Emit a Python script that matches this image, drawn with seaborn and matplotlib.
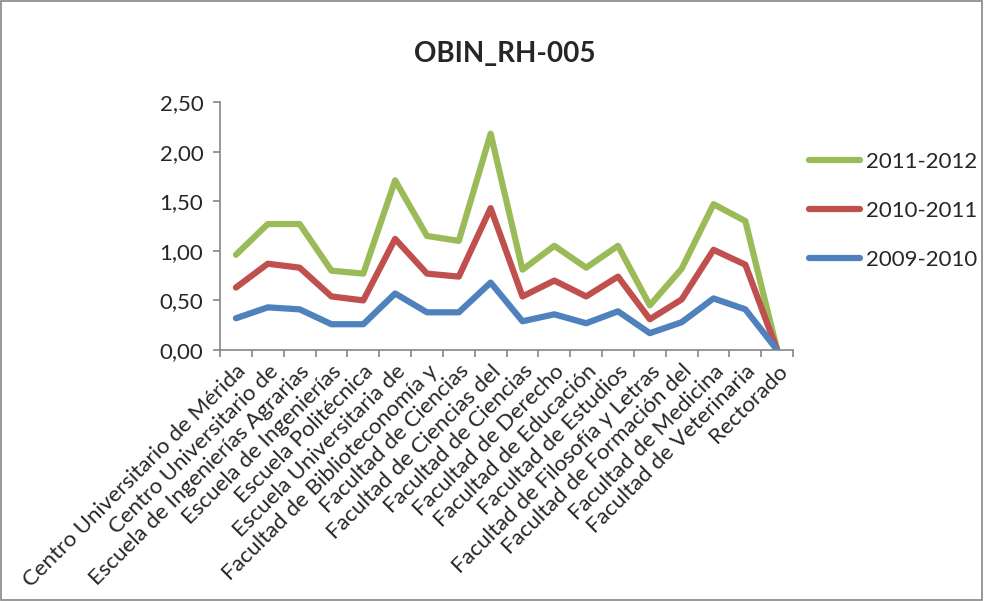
import pandas as pd
import numpy as np
import matplotlib
matplotlib.use('Agg')
import matplotlib.pyplot as plt
import seaborn as sns

# categorias (tal como aparecen, recortadas)
centros = ['Centro Universitario de Mérida', 'Centro Universitario de',
           'Escuela de Ingenierías Agrarias', 'Escuela de Ingenierías',
           'Escuela Politécnica', 'Escuela Universitaria de',
           'Facultad de Biblioteconomía y', 'Facultad de Ciencias',
           'Facultad de Ciencias del', 'Facultad de Ciencias',
           'Facultad de Derecho', 'Facultad de Educación',
           'Facultad de Estudios', 'Facultad de Filosofía y Letras',
           'Facultad de Formación del', 'Facultad de Medicina',
           'Facultad de Veterinaria', 'Rectorado']

# valores por curso (grafico de lineas apiladas)
v_2009 = [0.32, 0.43, 0.41, 0.26, 0.26, 0.57, 0.38, 0.38, 0.68,
          0.29, 0.36, 0.27, 0.39, 0.17, 0.28, 0.52, 0.41, 0.00]
v_2010 = [0.31, 0.44, 0.42, 0.28, 0.24, 0.55, 0.39, 0.36, 0.75,
          0.25, 0.34, 0.27, 0.35, 0.14, 0.23, 0.49, 0.45, 0.00]
v_2011 = [0.33, 0.40, 0.44, 0.26, 0.27, 0.59, 0.38, 0.36, 0.75,
          0.27, 0.35, 0.29, 0.31, 0.14, 0.31, 0.46, 0.44, 0.00]

cursos = ['2009-2010', '2010-2011', '2011-2012']
colores = {'2009-2010': '#4F81BD', '2010-2011': '#C0504D', '2011-2012': '#9BBB59'}

# apilar
acum = np.cumsum([v_2009, v_2010, v_2011], axis=0)
filas = []
for c, serie in zip(cursos, acum):
    for i, v in enumerate(serie):
        filas.append({'pos': i, 'valor': v, 'curso': c})
df = pd.DataFrame(filas)

sns.set_style('white')
plt.rcParams['font.family'] = ['Lato', 'DejaVu Sans']

fig = plt.figure(figsize=(9.84, 6.01), dpi=100)
ax = fig.add_axes([0.2236, 0.4176, 0.806 - 0.2236, 0.8303 - 0.4176])

sns.lineplot(data=df, x='pos', y='valor', hue='curso',
             hue_order=['2011-2012', '2010-2011', '2009-2010'],
             palette=colores, linewidth=4.5, ax=ax)

ax.set_xlim(-0.5, len(centros) - 0.5)
ax.set_ylim(0, 2.5)
ax.set_yticks(np.arange(0, 2.51, 0.5))
ax.set_yticklabels([f'{t:.2f}'.replace('.', ',') for t in np.arange(0, 2.51, 0.5)], fontsize=16)
ax.set_xticks(range(len(centros)))
ax.set_xticklabels(centros, rotation=45, ha='right', rotation_mode='anchor', fontsize=16)
ax.set_xticks(np.arange(-0.5, len(centros)), minor=True)
ax.tick_params(axis='x', which='major', length=0, pad=8)
ax.tick_params(axis='x', which='minor', length=5, color='#868686', width=1.2, direction='out', bottom=True)
ax.tick_params(axis='y', length=5, color='#868686', width=1.2, direction='out', left=True, pad=7)
ax.set_xlabel('')
ax.set_ylabel('')
for s in ['top', 'right']:
    ax.spines[s].set_visible(False)
for s in ['left', 'bottom']:
    ax.spines[s].set_color('#868686')
    ax.spines[s].set_linewidth(1.2)

fig.text(0.513, 0.91, 'OBIN_RH-005', ha='center', va='center', fontsize=20, fontweight='bold')

leg = ax.legend(loc='center left', bbox_to_anchor=(1.0, 0.56), frameon=False,
                fontsize=16, handlelength=2.3, labelspacing=1.3, handletextpad=0.3,
                borderaxespad=0.3)
for ln in leg.get_lines():
    ln.set_linewidth(4.5)

# borde del area del grafico
fig.patches.append(plt.Rectangle((0.001, 0.002), 0.997, 0.996, transform=fig.transFigure,
                                 fill=False, edgecolor='#868686', linewidth=1.2))

fig.savefig('out.png', dpi=100)
